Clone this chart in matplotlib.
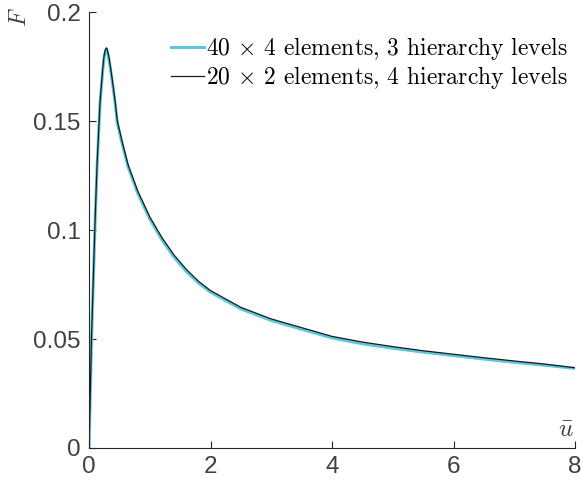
import numpy as np
import matplotlib.pyplot as plt

plt.rcParams['mathtext.fontset'] = 'cm'
plt.rcParams['font.family'] = ['Liberation Sans', 'DejaVu Sans']

# force-displacement response, two discretisations
u_fine = [0, 0.04, 0.1, 0.132, 0.181, 0.225, 0.247, 0.27, 0.29, 0.324, 0.357, 0.395, 0.43,
          0.466, 0.55, 0.642, 0.8, 1.0, 1.2, 1.4, 1.6, 1.8, 2.0, 2.5, 3.0, 3.5, 4.0, 4.5,
          5.0, 5.5, 6.0, 6.5, 7.0, 7.5, 8.0]
F_fine = [0, 0.049, 0.104, 0.129, 0.158, 0.173, 0.179, 0.182, 0.183, 0.179, 0.173, 0.1655,
          0.158, 0.149, 0.139, 0.129, 0.117, 0.105, 0.0955, 0.0875, 0.081, 0.0758, 0.0715,
          0.0638, 0.0585, 0.0545, 0.0505, 0.0478, 0.0458, 0.0440, 0.0424, 0.0408, 0.0393,
          0.0380, 0.0365]

u_coarse = u_fine
F_coarse = [0, 0.050, 0.105, 0.130, 0.159, 0.174, 0.180, 0.183, 0.1836, 0.180, 0.174, 0.1665,
            0.159, 0.150, 0.140, 0.130, 0.118, 0.106, 0.0965, 0.0885, 0.082, 0.0765, 0.0722,
            0.0645, 0.0592, 0.0552, 0.0512, 0.0486, 0.0465, 0.0446, 0.0430, 0.0414, 0.0399,
            0.0385, 0.0368]

labels = [r'40 $\times$ 4 elements, 3 hierarchy levels',
          r'20 $\times$ 2 elements, 4 hierarchy levels']

fig = plt.figure(figsize=(5.82, 4.83), dpi=100)
ax = fig.add_axes([0.153, 0.0725, 0.835, 0.9025])

ax.plot(u_fine, F_fine, color='#5cc8da', lw=2.2, label=labels[0])
ax.plot(u_coarse, F_coarse, color='#1a1a1a', lw=0.9, label=labels[1])

ax.set_xlim(0, 8)
ax.set_ylim(0, 0.2)
ax.set_xticks([0, 2, 4, 6, 8])
ax.set_yticks([0, 0.05, 0.1, 0.15, 0.2])
ax.set_yticklabels(['0', '0.05', '0.1', '0.15', '0.2'])

for s in ['top', 'right']:
    ax.spines[s].set_visible(False)
for s in ['left', 'bottom']:
    ax.spines[s].set_color('#262626')
    ax.spines[s].set_linewidth(0.8)
ax.tick_params(direction='in', length=5, width=0.8, colors='#262626',
               labelsize=17.5, labelcolor='#404040', pad=6)

ax.text(7.98, 0.003, r'$\bar{u}$', fontsize=18, ha='right', va='bottom', color='#404040')
fig.text(0.035, 0.985, r'$F$', fontsize=17, rotation=90, ha='center', va='top', color='#404040')

ax.legend(loc='upper right', frameon=False, prop={'family': 'cmr10', 'size': 17},
          handlelength=1.4, handletextpad=0.1, labelspacing=0.08, borderaxespad=0.2,
          bbox_to_anchor=(1.015, 0.98))

fig.savefig('out.png', dpi=100)
